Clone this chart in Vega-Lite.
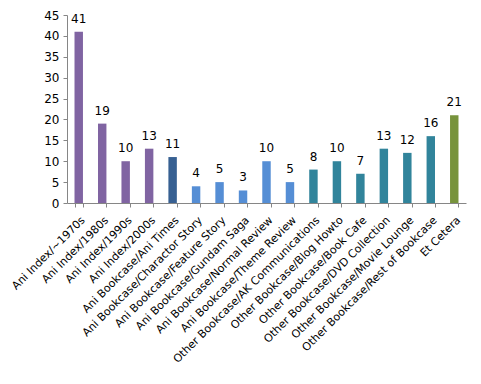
{
  "$schema": "https://vega.github.io/schema/vega-lite/v6.json",
  "width": 399,
  "height": 188,
  "autosize": {"type": "none"},
  "padding": {"left": 67, "top": 15, "right": 15, "bottom": 181},
  "background": "white",
  "config": {
    "view": {"stroke": null},
    "font": "DejaVu Sans",
    "axis": {"domainColor": "#868686", "tickColor": "#868686", "labelColor": "black", "grid": false, "title": null}
  },
  "data": {
    "values": [
      {"cat": "Ani Index/~1970s", "value": 41, "group": "Ani Index"},
      {"cat": "Ani Index/1980s", "value": 19, "group": "Ani Index"},
      {"cat": "Ani Index/1990s", "value": 10, "group": "Ani Index"},
      {"cat": "Ani Index/2000s", "value": 13, "group": "Ani Index"},
      {"cat": "Ani Bookcase/Ani Times", "value": 11, "group": "Ani Times"},
      {"cat": "Ani Bookcase/Charactor Story", "value": 4, "group": "Ani Bookcase"},
      {"cat": "Ani Bookcase/Feature Story", "value": 5, "group": "Ani Bookcase"},
      {"cat": "Ani Bookcase/Gundam Saga", "value": 3, "group": "Ani Bookcase"},
      {"cat": "Ani Bookcase/Normal Review", "value": 10, "group": "Ani Bookcase"},
      {"cat": "Ani Bookcase/Theme Review", "value": 5, "group": "Ani Bookcase"},
      {"cat": "Other Bookcase/AK Communications", "value": 8, "group": "Other Bookcase"},
      {"cat": "Other Bookcase/Blog Howto", "value": 10, "group": "Other Bookcase"},
      {"cat": "Other Bookcase/Book Cafe", "value": 7, "group": "Other Bookcase"},
      {"cat": "Other Bookcase/DVD Collection", "value": 13, "group": "Other Bookcase"},
      {"cat": "Other Bookcase/Movie Lounge", "value": 12, "group": "Other Bookcase"},
      {"cat": "Other Bookcase/Rest of Bookcase", "value": 16, "group": "Other Bookcase"},
      {"cat": "Et Cetera", "value": 21, "group": "Et Cetera"}
    ]
  },
  "encoding": {
    "x": {
      "field": "cat", "type": "nominal", "sort": null,
      "scale": {"paddingInner": 0.64, "paddingOuter": 0.32},
      "axis": {"labelAngle": -45, "labelFontSize": 11, "tickBand": "extent", "tickSize": 4, "labelPadding": 7, "labelLimit": 300}
    },
    "y": {
      "field": "value", "type": "quantitative",
      "scale": {"domain": [0, 45]},
      "axis": {"values": [0, 5, 10, 15, 20, 25, 30, 35, 40, 45], "labelFontSize": 12, "tickSize": 4, "labelPadding": 4}
    }
  },
  "layer": [
    {
      "mark": {"type": "bar"},
      "encoding": {
        "color": {
          "field": "group", "type": "nominal", "legend": null,
          "scale": {
            "domain": ["Ani Index", "Ani Times", "Ani Bookcase", "Other Bookcase", "Et Cetera"],
            "range": ["#8064A2", "#376092", "#558ED5", "#31849B", "#77933C"]
          }
        }
      }
    },
    {
      "mark": {"type": "text", "baseline": "bottom", "dy": -6, "fontSize": 12, "color": "black"},
      "encoding": {"text": {"field": "value", "type": "quantitative"}}
    }
  ]
}
